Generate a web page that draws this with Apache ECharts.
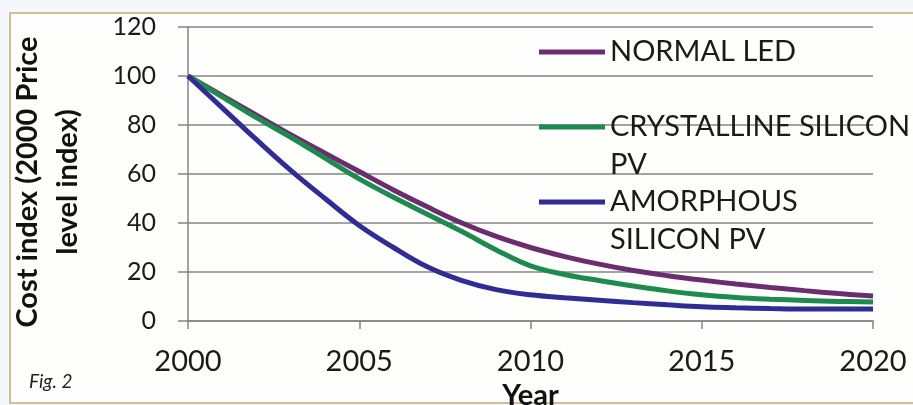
<!DOCTYPE html>
<html>
<head>
<meta charset="utf-8">
<script src="https://cdn.jsdelivr.net/npm/echarts@6/dist/echarts.min.js"></script>
<style>
  html, body { margin: 0; padding: 0; background: #f4f7fb; }
  #chart { width: 913px; height: 405px; }
</style>
</head>
<body>
<div id="chart"></div>
<script>
// Cost index (2000 = 100) by year
const years = [2000, 2001, 2002, 2003, 2004, 2005, 2006, 2007, 2008, 2009, 2010,
               2011, 2012, 2013, 2014, 2015, 2016, 2017, 2018, 2019, 2020];
const normalLed = [100, 92, 84, 76, 68.5, 61, 53.5, 46.5, 40, 34.5, 30,
                   26.3, 23.2, 20.6, 18.5, 16.7, 15.1, 13.7, 12.4, 11.2, 10.2];
const crystallinePv = [100, 91.5, 83, 75, 66.5, 58, 50.5, 43.5, 36.5, 29, 22.5,
                       19, 16.5, 14.3, 12.3, 10.7, 9.6, 8.9, 8.4, 8, 7.8];
const amorphousPv = [100, 87, 74, 61.5, 50, 39, 30, 22, 16.5, 12.8, 10.7,
                     9.5, 8.5, 7.5, 6.6, 5.8, 5.4, 5.1, 4.9, 4.9, 4.9];
const seriesNames = ['NORMAL LED', 'CRYSTALLINE SILICON PV', 'AMORPHOUS SILICON PV'];
// legend entries wrap onto a second line under the first
const legendFirstLines = ['NORMAL LED', 'CRYSTALLINE SILICON', 'AMORPHOUS'];
const legendSecondLines = ['', 'PV', 'SILICON PV'];
const yTicks = [0, 20, 40, 60, 80, 100, 120];
const xTicks = [2000, 2005, 2010, 2015, 2020];

const colors = ['#6b2d6f', '#1d8a4e', '#2f2c96'];
const FONT = 'Lato, "Open Sans", sans-serif';
const LEGEND_FONT_SIZE = 29;
const pairs = vals => years.map((y, i) => [y, vals[i]]);

const chart = echarts.init(document.getElementById('chart'), null, { renderer: 'canvas' });

const legendIconY = [52, 127, 202];
const legendLineGap = 38;
const legendLeft = 539;
const legendTextX = legendLeft + 66 + 5;

const legends = seriesNames.map((name, i) => ({
  data: [name],
  left: legendLeft,
  top: legendIconY[i] - legendLineGap / 2,
  padding: 0,
  orient: 'vertical',
  icon: 'rect',
  itemWidth: 66,
  itemHeight: 5,
  itemGap: 0,
  selectedMode: false,
  formatter: () => legendFirstLines[i],
  textStyle: {
    fontFamily: FONT,
    fontSize: LEGEND_FONT_SIZE,
    color: '#1a1a1a',
    lineHeight: legendLineGap
  }
}));

const continuationTexts = legendSecondLines
  .map((t, i) => ({ t, i }))
  .filter(d => d.t)
  .map(d => ({
    type: 'text',
    x: legendTextX,
    y: legendIconY[d.i] + legendLineGap,
    z: 10,
    style: {
      text: d.t,
      font: LEGEND_FONT_SIZE + 'px ' + FONT,
      fill: '#1a1a1a',
      verticalAlign: 'middle',
      align: 'left'
    }
  }));

chart.setOption({
  backgroundColor: '#f4f7fb',
  animation: false,
  color: colors,
  graphic: [
    {
      type: 'rect', z: -10,
      shape: { x: 10, y: 13, width: 920, height: 390 },
      style: { fill: '#fefefd', stroke: '#d7bd92', lineWidth: 2 }
    },
    {
      type: 'text', left: 29, top: 372,
      style: { text: 'Fig. 2', font: 'italic 19px ' + FONT, fill: '#222' }
    }
  ].concat(continuationTexts),
  legend: legends,
  grid: { left: 188, right: 40, top: 27, bottom: 84, outerBoundsMode: 'none', containLabel: false },
  xAxis: {
    type: 'value',
    min: 2000, max: 2020, interval: 5,
    name: 'Year',
    nameLocation: 'middle',
    nameGap: 50,
    nameTextStyle: { fontFamily: FONT, fontSize: 29, fontWeight: 'bold', color: '#111' },
    axisLine: { lineStyle: { color: '#858585', width: 1.5 } },
    axisTick: { show: true, length: 8, inside: false, lineStyle: { color: '#858585', width: 1.5 } },
    splitLine: { show: false },
    axisLabel: {
      margin: 26,
      fontFamily: FONT, fontSize: 29, color: '#1a1a1a',
      formatter: v => (xTicks.includes(v) ? String(v) : '')
    }
  },
  yAxis: {
    type: 'value',
    min: 0, max: 120, interval: 20,
    name: 'Cost index (2000 Price\nlevel index)',
    nameLocation: 'middle',
    nameRotate: 90,
    nameGap: 100,
    nameTextStyle: {
      fontFamily: FONT, fontSize: 29, fontWeight: 'bold', color: '#111',
      lineHeight: 40, align: 'center', padding: [0, 16, 0, 0]
    },
    axisLine: { show: true, lineStyle: { color: '#858585', width: 1.5 } },
    axisTick: { show: true, length: 10, lineStyle: { color: '#858585', width: 1.5 } },
    splitLine: { show: true, lineStyle: { color: '#858585', width: 1.5 } },
    axisLabel: {
      margin: 32,
      fontFamily: FONT, fontSize: 25, color: '#1a1a1a',
      formatter: v => (yTicks.includes(v) ? String(v) : '')
    }
  },
  series: [normalLed, crystallinePv, amorphousPv].map((vals, i) => ({
    name: seriesNames[i],
    type: 'line',
    data: pairs(vals),
    smooth: 0.4,
    showSymbol: false,
    lineStyle: { width: 5, color: colors[i] },
    itemStyle: { color: colors[i] },
    z: 2 + i
  }))
});
</script>
</body>
</html>
